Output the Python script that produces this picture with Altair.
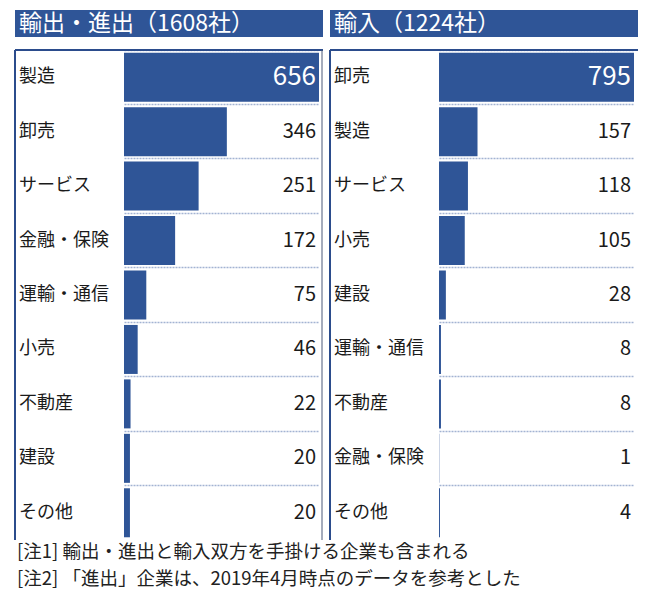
import altair as alt
import pandas as pd

left_title = "輸出・進出（1608社）"
right_title = "輸入（1224社）"

left_cats = ["製造", "卸売", "サービス", "金融・保険", "運輸・通信", "小売", "不動産", "建設", "その他"]
left_vals = [656, 346, 251, 172, 75, 46, 22, 20, 20]

right_cats = ["卸売", "製造", "サービス", "小売", "建設", "運輸・通信", "不動産", "金融・保険", "その他"]
right_vals = [795, 157, 118, 105, 28, 8, 8, 1, 4]

notes = [
    "[注1] 輸出・進出と輸入双方を手掛ける企業も含まれる",
    "[注2] 「進出」企業は、2019年4月時点のデータを参考とした",
]

BLUE = "#2F5597"
BORDER = "#2B4C8C"
TXT = "#1a1a1a"
FONT = "Noto Sans CJK JP"
W = 308
H = 490


def header(title):
    return (
        alt.Chart(pd.DataFrame({"t": [title]}))
        .mark_text(align="left", baseline="middle", color="white", fontSize=23, font=FONT)
        .encode(text="t:N", x=alt.value(4), y=alt.value(13.5))
        .properties(width=W, height=27, view=alt.ViewBackground(fill=BLUE, stroke=None))
    )


def body(cats, vals, right_border):
    df = pd.DataFrame({"cat": cats, "v": vals})
    y = alt.Y(
        "cat:N",
        sort=cats,
        scale=alt.Scale(paddingInner=0, paddingOuter=0),
        axis=alt.Axis(
            labels=False, ticks=False, domain=False, title=None, grid=True,
            bandPosition=0, gridColor="#A3B3D2", gridDash=[2, 1], gridWidth=1.5,
            minExtent=0, maxExtent=0,
        ),
    )
    base = alt.Chart(df).transform_joinaggregate(mx="max(v)")
    bars = base.mark_bar(color=BLUE, height={"band": 0.9}).encode(
        y=y,
        x=alt.X("v:Q", axis=None,
                scale=alt.Scale(domain=[0, max(vals)], range=[109, 304], nice=False)),
    )
    labels = base.mark_text(align="left", baseline="middle", fontSize=18, font=FONT, color=TXT).encode(
        y=y, text="cat:N", x=alt.value(4)
    )
    values = base.mark_text(align="right", baseline="middle", font=FONT).encode(
        y=y,
        text="v:Q",
        x=alt.value(301),
        color=alt.condition("datum.v == datum.mx", alt.value("white"), alt.value(TXT)),
        size=alt.condition("datum.v == datum.mx", alt.value(26), alt.value(20)),
    )
    one = pd.DataFrame({"a": [0]})
    top = alt.Chart(one).mark_rule(color=BORDER, strokeWidth=2).encode(
        x=alt.value(0), x2=alt.value(W), y=alt.value(0)
    )
    left = alt.Chart(one).mark_rule(color=BORDER, strokeWidth=2).encode(
        x=alt.value(0), y=alt.value(0), y2=alt.value(H)
    )
    layers = [bars, labels, values, top, left]
    if right_border:
        rb = alt.Chart(one).mark_rule(color="#4A5878", strokeWidth=1).encode(
            x=alt.value(W - 1), y=alt.value(0), y2=alt.value(H)
        )
        layers.append(rb)
    return alt.layer(*layers).properties(width=W, height=H)


col_left = alt.vconcat(header(left_title), body(left_cats, left_vals, True), spacing=12)
col_right = alt.vconcat(header(right_title), body(right_cats, right_vals, False), spacing=12)

notes_chart = (
    alt.Chart(pd.DataFrame({"i": list(range(len(notes))), "t": notes}))
    .mark_text(align="left", baseline="middle", fontSize=18.5, font=FONT, color="#222222", dy=-3)
    .encode(
        y=alt.Y("i:O", axis=None, scale=alt.Scale(paddingInner=0, paddingOuter=0)),
        text="t:N",
        x=alt.value(2),
    )
    .properties(width=620, height=54)
)

chart = (
    alt.vconcat(alt.hconcat(col_left, col_right, spacing=5), notes_chart, spacing=0)
    .properties(padding={"left": 6, "top": 2, "right": 0, "bottom": 0})
    .configure_view(stroke=None)
)

chart.save("out.html", embed_options={"renderer": "svg", "actions": False})
